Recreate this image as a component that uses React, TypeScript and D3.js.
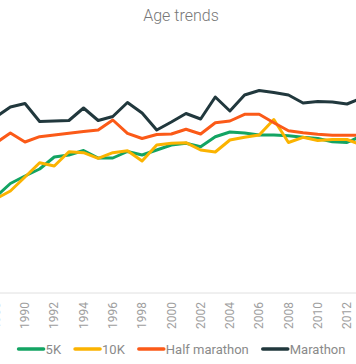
import React, { useMemo } from "react";
import * as d3 from "d3";

const years = [1988, 1989, 1990, 1991, 1992, 1993, 1994, 1995, 1996, 1997, 1998, 1999, 2000, 2001, 2002, 2003, 2004, 2005, 2006, 2007, 2008, 2009, 2010, 2011, 2012, 2013];

const fiveK = [28.3, 29.65, 30.4, 31.1, 32.3, 32.5, 32.95, 32.2, 32.2, 32.85, 32.5, 33.0, 33.5, 33.67, 33.33, 34.33, 34.8, 34.7, 34.5, 34.5, 34.43, 34.27, 34.15, 33.83, 33.75, 34.4];
const tenK = [28.1, 28.9, 30.3, 31.73, 31.4, 32.83, 32.73, 32.17, 32.73, 32.93, 31.9, 33.5, 33.67, 33.73, 33.0, 32.8, 34.0, 34.27, 34.5, 36.05, 33.75, 34.27, 33.95, 34.05, 34.05, 33.5];
const halfMarathon = [33.7, 34.7, 33.8, 34.33, 34.5, 34.67, 34.85, 35.0, 36.0, 34.67, 34.15, 34.55, 34.6, 35.07, 34.6, 35.73, 35.9, 36.57, 36.57, 35.73, 34.93, 34.73, 34.57, 34.47, 34.47, 34.47];
const marathon = [36.3, 37.3, 37.65, 35.85, 35.9, 35.95, 37.2, 35.95, 36.35, 37.75, 36.7, 35.0, 35.8, 36.65, 36.1, 38.3, 36.9, 38.5, 38.95, 38.75, 38.5, 37.7, 37.85, 37.8, 37.6, 38.2];

const seriesNames = ["5K", "10K", "Half marathon", "Marathon"];
const seriesValues = [fiveK, tenK, halfMarathon, marathon];
const seriesColors = ["#13a463", "#fbb300", "#fb5a18", "#21383d"];

const tickYears = [1988, 1990, 1992, 1994, 1996, 1998, 2000, 2002, 2004, 2006, 2008, 2010, 2012];

const W = 356;
const H = 364;
const FONT = "Roboto, 'Noto Sans', sans-serif";

function textWidth(t: string, size: number) {
  const c = document.createElement("canvas").getContext("2d");
  if (!c) return t.length * size * 0.5;
  c.font = `${size}px Roboto`;
  return c.measureText(t).width;
}

export default function App() {
  const x = d3.scaleLinear().domain([1990, 2012]).range([25, 347]);
  const y = d3.scaleLinear().domain([28, 38]).range([200, 100]);
  const axisY = 293;

  const line = d3
    .line<number>()
    .x((_, i) => x(years[i]))
    .y((d) => y(d));

  const legend = useMemo(() => {
    const sw = 25, gap = 2, after = 14, fs = 13;
    const widths = seriesNames.map((n) => sw + gap + textWidth(n, fs));
    const total = widths.reduce((a, b) => a + b, 0) + after * (seriesNames.length - 1);
    let cx = 182 - total / 2;
    return seriesNames.map((n, i) => {
      const item = { name: n, color: seriesColors[i], x: cx };
      cx += widths[i] + after;
      return item;
    });
  }, []);

  return (
    <svg
      width={W}
      height={H}
      style={{ position: "absolute", left: 0, top: 0, background: "#fff" }}
      fontFamily={FONT}
    >
      <text x={181} y={21} textAnchor="middle" fontSize={16} fill="#777" fontWeight={300}>
        Age trends
      </text>
      <line x1={0} x2={W} y1={axisY} y2={axisY} stroke="#e0e0e0" strokeWidth={1} />
      {tickYears.map((t) => (
        <text
          key={t}
          transform={`translate(${x(t)},302) rotate(-90)`}
          textAnchor="end"
          dy="0.35em"
          fontSize={12}
          fill="#9e9e9e"
        >
          {t}
        </text>
      ))}
      {seriesValues.map((vals, i) => (
        <path
          key={seriesNames[i]}
          d={line(vals) || ""}
          fill="none"
          stroke={seriesColors[i]}
          strokeWidth={3}
          strokeLinejoin="round"
        />
      ))}
      {legend.map((it) => (
        <g key={it.name} transform={`translate(${it.x},349)`}>
          <line x1={0} x2={25} y1={0} y2={0} stroke={it.color} strokeWidth={3.5} strokeLinecap="round" />
          <text x={27} dy="0.35em" fontSize={13} fill="#8a8a8a">
            {it.name}
          </text>
        </g>
      ))}
    </svg>
  );
}
